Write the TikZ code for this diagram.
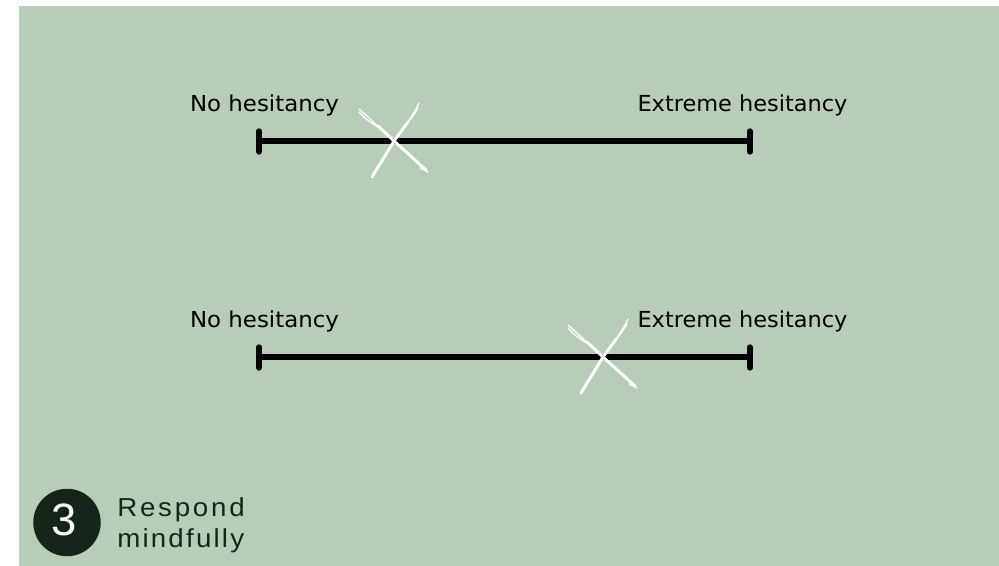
\documentclass[tikz,border=0pt]{standalone}
\usepackage{graphicx}
\usepackage{fontspec}
\setmainfont{DejaVu Sans}
\newfontfamily\hfonta{Liberation Sans}[LetterSpace=10]
\newfontfamily\hfontb{Liberation Sans}[LetterSpace=8]
\newfontfamily\nfont{Liberation Sans}
\newcommand\widetxt[1]{\scalebox{1.04}[1]{#1}}
\newcommand\widetxtb[1]{\scalebox{1.02}[1]{#1}}
\newcommand\widehead[1]{\scalebox{1.065}[1]{#1}}
\definecolor{sage}{HTML}{B7CDB8}
\definecolor{darkgreen}{HTML}{14261A}
\tikzset{
  x=0.75pt,y=-0.75pt,
  scalelabel/.style={inner sep=0pt,text=black,font=\fontsize{16.5pt}{20pt}\selectfont},
  bar/.style={line width=4.6pt,draw=black},
  tick/.style={line width=4pt,draw=black,line cap=round},
  chalk/.style={draw=white,line width=2.2pt,line cap=round},
  chalkthin/.style={draw=white,line width=1pt,line cap=round},
}
\begin{document}
\begin{tikzpicture}
\useasboundingbox (0,0) rectangle (999,566);
\fill[white] (0,0) rectangle (999,566);
\fill[sage] (19,6) rectangle (999,566);
% first scale
\node[scalelabel] (l1) at (264.5,105) {\widetxt{No hesitancy}};
\node[scalelabel] (r1) at (742.5,105) {\widetxtb{Extreme hesitancy}};
\coordinate (a1) at (259,141);
\coordinate (b1) at (750,141);
\coordinate (at1) at (259,131); \coordinate (ab1) at (259,152);
\coordinate (bt1) at (750,131); \coordinate (bb1) at (750,152);
\draw[bar] (a1) -- (b1);
\draw[tick] (at1) -- (ab1);
\draw[tick] (bt1) -- (bb1);
% second scale
\node[scalelabel] (l2) at (264.5,321) {\widetxt{No hesitancy}};
\node[scalelabel] (r2) at (742.5,321) {\widetxtb{Extreme hesitancy}};
\coordinate (a2) at (259,357);
\coordinate (b2) at (750,357);
\coordinate (at2) at (259,347); \coordinate (ab2) at (259,368);
\coordinate (bt2) at (750,347); \coordinate (bb2) at (750,368);
\draw[bar] (a2) -- (b2);
\draw[tick] (at2) -- (ab2);
\draw[tick] (bt2) -- (bb2);
% crosses
\foreach \dx/\dy in {0/0,209/216}{
 \begin{scope}[shift={(\dx,\dy)}]
  \draw[chalk] (372,177) -- (394,141) -- (408,122);
  \draw[chalkthin] (404,127) .. controls (411,118) and (415,111) .. (419,103);
  \draw[chalkthin] (408,122) .. controls (412,118) and (415,113) .. (418,108);
  \draw[chalk] (378,126) -- (394,141) -- (426,170);
  \draw[chalkthin] (359,109) .. controls (366,115) and (373,122) .. (381,129);
  \draw[chalkthin] (359,112) .. controls (365,119) and (371,123) .. (378,127);
  \draw[chalkthin] (420,168) -- (428,172);
 \end{scope}
}
% badge
\node[circle,fill=darkgreen,minimum size=50.6pt,inner sep=0pt] (badge) at (67,522.5) {};
\node[inner sep=0pt,text=white,font=\nfont\fontsize{34pt}{38pt}\selectfont] (digit) at (64,520) {3};
\node[anchor=west,align=left,inner sep=0pt,text=darkgreen,font=\fontsize{19.5pt}{23.25pt}\selectfont] (title) at (117,525) {\widehead{\hfonta Respond}\\\widehead{\hfontb mindfully}};
\end{tikzpicture}
\end{document}
